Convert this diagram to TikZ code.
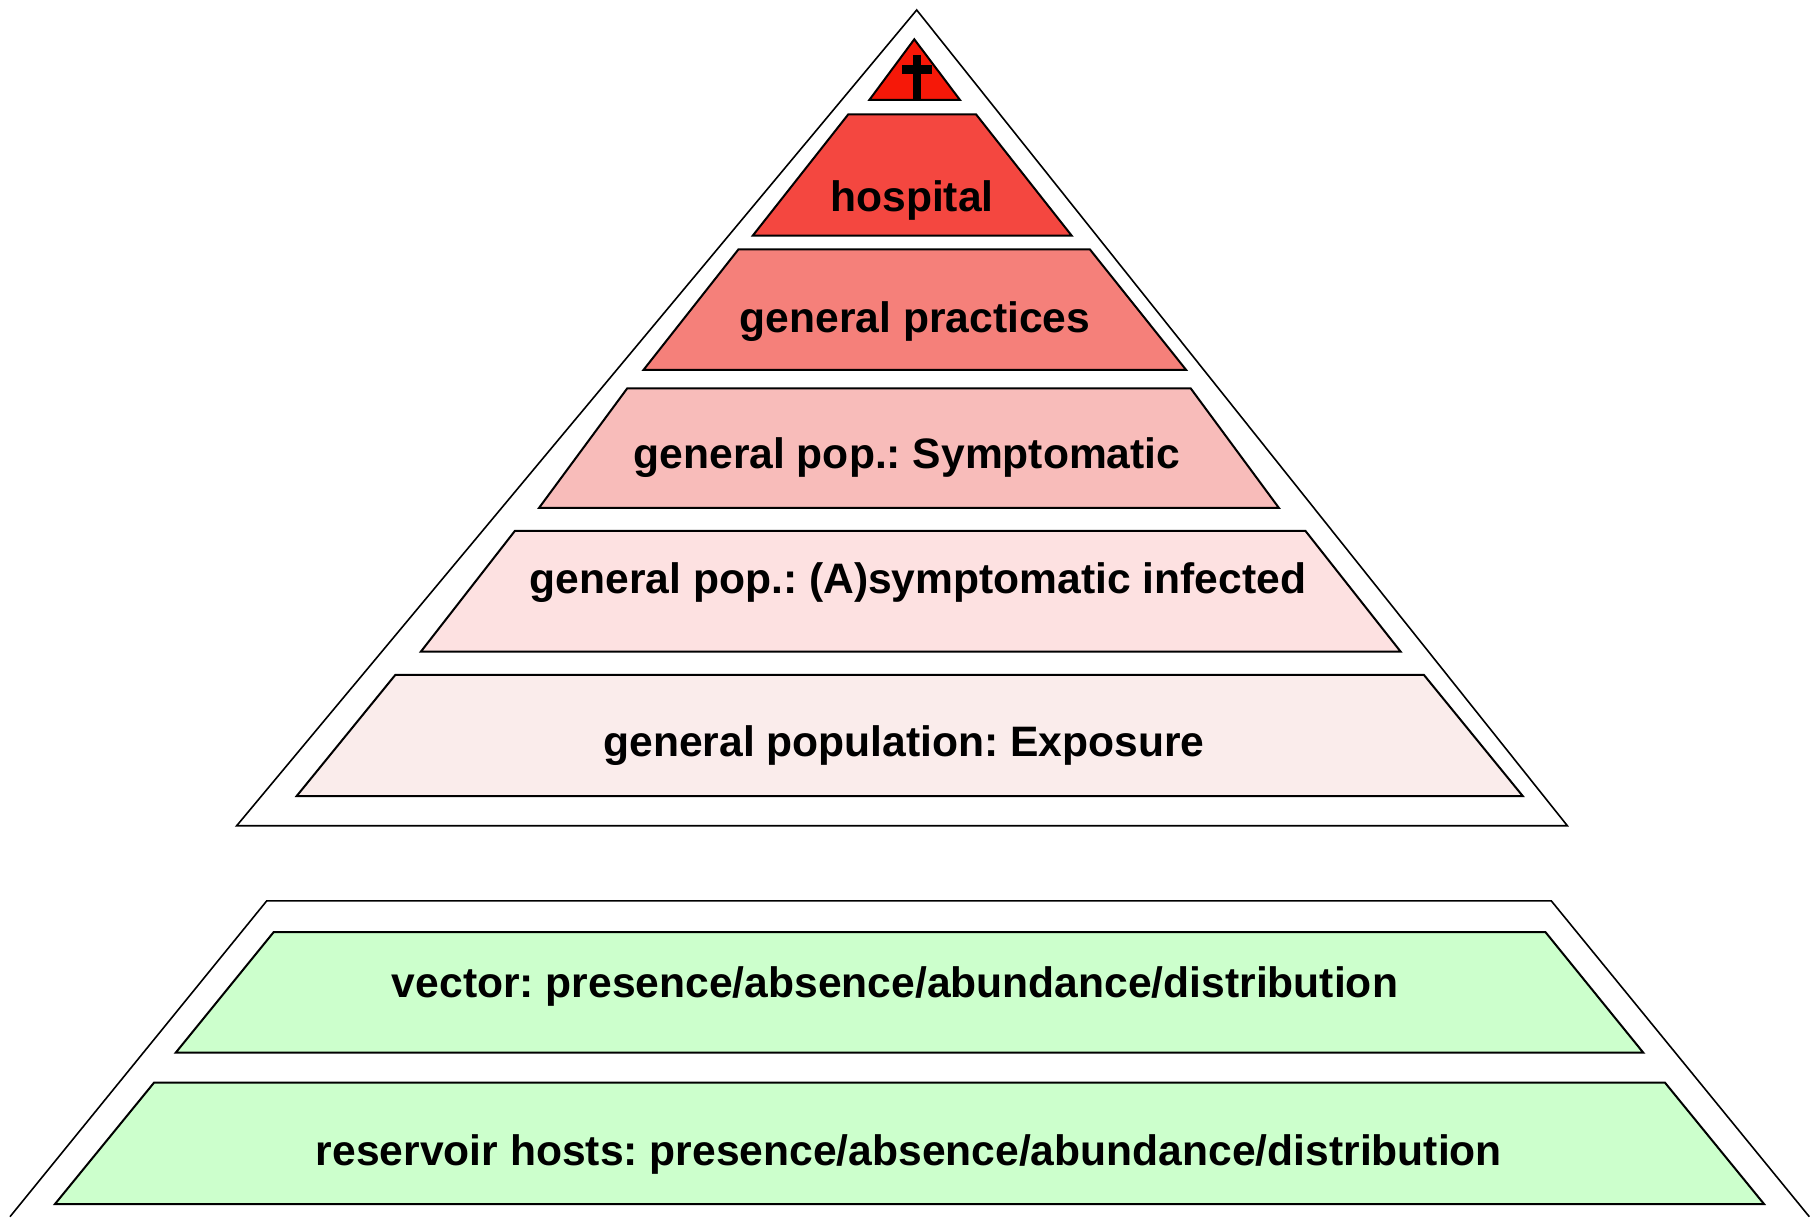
\documentclass[tikz,border=0pt]{standalone}
\usepackage{fontspec}
\setmainfont{Liberation Sans}
\frenchspacing
\begin{document}
\begin{tikzpicture}[x=0.5pt,y=-0.5pt,
  outer/.style={draw=black,line width=0.8pt,line join=miter},
  tier/.style={draw=black,line width=1pt,line join=miter},
  lbl/.style={anchor=base,inner sep=0pt,font=\fontsize{21.3pt}{25pt}\selectfont\bfseries\frenchspacing}]
\definecolor{cTop}{RGB}{246,24,8}
\definecolor{cHosp}{RGB}{244,71,64}
\definecolor{cGP}{RGB}{245,128,122}
\definecolor{cSym}{RGB}{248,188,186}
\definecolor{cAsym}{RGB}{253,225,225}
\definecolor{cExp}{RGB}{250,236,235}
\definecolor{cGreen}{RGB}{204,255,204}
\useasboundingbox (0,0) rectangle (1818,1218);
% outer pyramid
\draw[outer] (916.7,10) -- (1567.3,825.7) -- (236.7,825.7) -- cycle;
% tiers
\draw[tier,fill=cTop] (914.3,39.3) -- (960,100) -- (869.3,100) -- cycle;
\fill[black] (913,55) rectangle (921,100);
\fill[black] (902,65.5) rectangle (932,74);
\draw[tier,fill=cHosp] (848.3,114.3) -- (976,114.3) -- (1071.7,235.7) -- (752.7,235.7) -- cycle;
\draw[tier,fill=cGP] (738.5,249.3) -- (1089.8,249.3) -- (1186.1,369.9) -- (643.5,369.9) -- cycle;
\draw[tier,fill=cSym] (627.2,388.4) -- (1190.7,388.4) -- (1278.8,507.8) -- (539.1,507.8) -- cycle;
\draw[tier,fill=cAsym] (514.8,531) -- (1305.5,531) -- (1400.6,651.6) -- (420.9,651.6) -- cycle;
\draw[tier,fill=cExp] (395.4,674.8) -- (1423.8,674.8) -- (1522.7,796) -- (296.7,796) -- cycle;
% lower pyramid
\draw[outer] (10,1216.7) -- (266.7,900.9) -- (1551.3,900.9) -- (1809.3,1216.7);
\draw[tier,fill=cGreen] (273.6,932.2) -- (1545.5,932.2) -- (1643.3,1052.7) -- (175.7,1052.7) -- cycle;
\draw[tier,fill=cGreen] (154,1082.7) -- (1665,1082.7) -- (1764,1204) -- (55,1204) -- cycle;
% labels
\node[lbl] (hosp) at (912,212) {hospital};
\node[lbl] (gp) at (915,333) {general practices};
\node[lbl] (sym) at (907,469) {general pop.: Symptomatic};
\node[lbl] (asym) at (918,594) {general pop.: (A)symptomatic infected};
\node[lbl] (exp) at (904,756) {general population: Exposure};
\node[lbl] (vec) at (895,997) {vector: presence/absence/abundance/distribution};
\node[lbl] (res) at (909,1165) {reservoir hosts: presence/absence/abundance/distribution};
\end{tikzpicture}
\end{document}
